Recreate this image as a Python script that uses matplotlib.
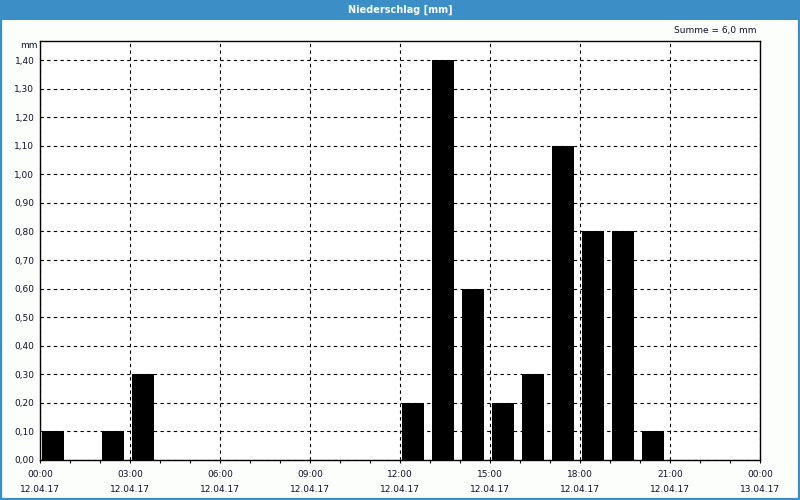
import matplotlib.pyplot as plt
from matplotlib.patches import Rectangle

# hourly precipitation on 12.04.17 (mm), hour 0..23
hours = list(range(24))
rain = [0.1, 0.0, 0.1, 0.3, 0.0, 0.0, 0.0, 0.0, 0.0, 0.0, 0.0, 0.0,
        0.2, 1.4, 0.6, 0.2, 0.3, 1.1, 0.8, 0.8, 0.1, 0.0, 0.0, 0.0]
tick_hours = [0, 3, 6, 9, 12, 15, 18, 21, 24]
tick_labels = ["00:00\n12.04.17", "03:00\n12.04.17", "06:00\n12.04.17",
               "09:00\n12.04.17", "12:00\n12.04.17", "15:00\n12.04.17",
               "18:00\n12.04.17", "21:00\n12.04.17", "00:00\n13.04.17"]
y_ticks = [i / 10 for i in range(15)]

BLUE = "#3b8fc6"
TXT = "#10102a"

fig = plt.figure(figsize=(8, 5), dpi=100, facecolor="#fcfefc")

# title bar and outer frame
fig.patches.append(Rectangle((0, 0.96), 1, 0.04, transform=fig.transFigure,
                             facecolor=BLUE, edgecolor="none", zorder=0))
fig.patches.append(Rectangle((0.001, 0.002), 0.998, 0.996, transform=fig.transFigure,
                             facecolor="none", edgecolor=BLUE, linewidth=1.6, zorder=5))
fig.text(0.5, 0.981, "Niederschlag [mm]", color="white", ha="center", va="center",
         fontsize=7, fontweight="bold")

ax = fig.add_axes([0.05, 0.08, 0.90, 0.8386])
ax.set_facecolor("white")

# bars start a little after the hour and span ~0.7 h
ax.bar([h + 0.08 for h in hours], rain, width=0.71, align="edge",
       color="black", zorder=3)

ax.set_xlim(0, 24)
ax.set_ylim(0, 1.468)
ax.set_xticks(tick_hours)
ax.set_xticklabels(tick_labels, fontsize=6.5, color=TXT, linespacing=1.75)
ax.set_xticks(hours, minor=True)
ax.set_yticks(y_ticks)
ax.set_yticklabels([f"{v:.2f}".replace(".", ",") for v in y_ticks],
                   fontsize=6.5, color=TXT)

ax.tick_params(axis="x", which="both", length=2.5, width=0.8, direction="out", pad=5)
ax.tick_params(axis="y", length=0, pad=4)

ax.grid(True, which="major", color="black", linestyle=(0, (3, 3)), linewidth=0.8, zorder=1)
for s in ax.spines.values():
    s.set_color("black")
    s.set_linewidth(1.0)
    s.set_zorder(4)

fig.text(0.047, 0.91, "mm", fontsize=6.5, color=TXT, ha="right", va="center")
fig.text(0.945, 0.939, "Summe = 6,0 mm", fontsize=6.5, color=TXT, ha="right", va="center")

fig.savefig("out.png", dpi=100, facecolor=fig.get_facecolor())
